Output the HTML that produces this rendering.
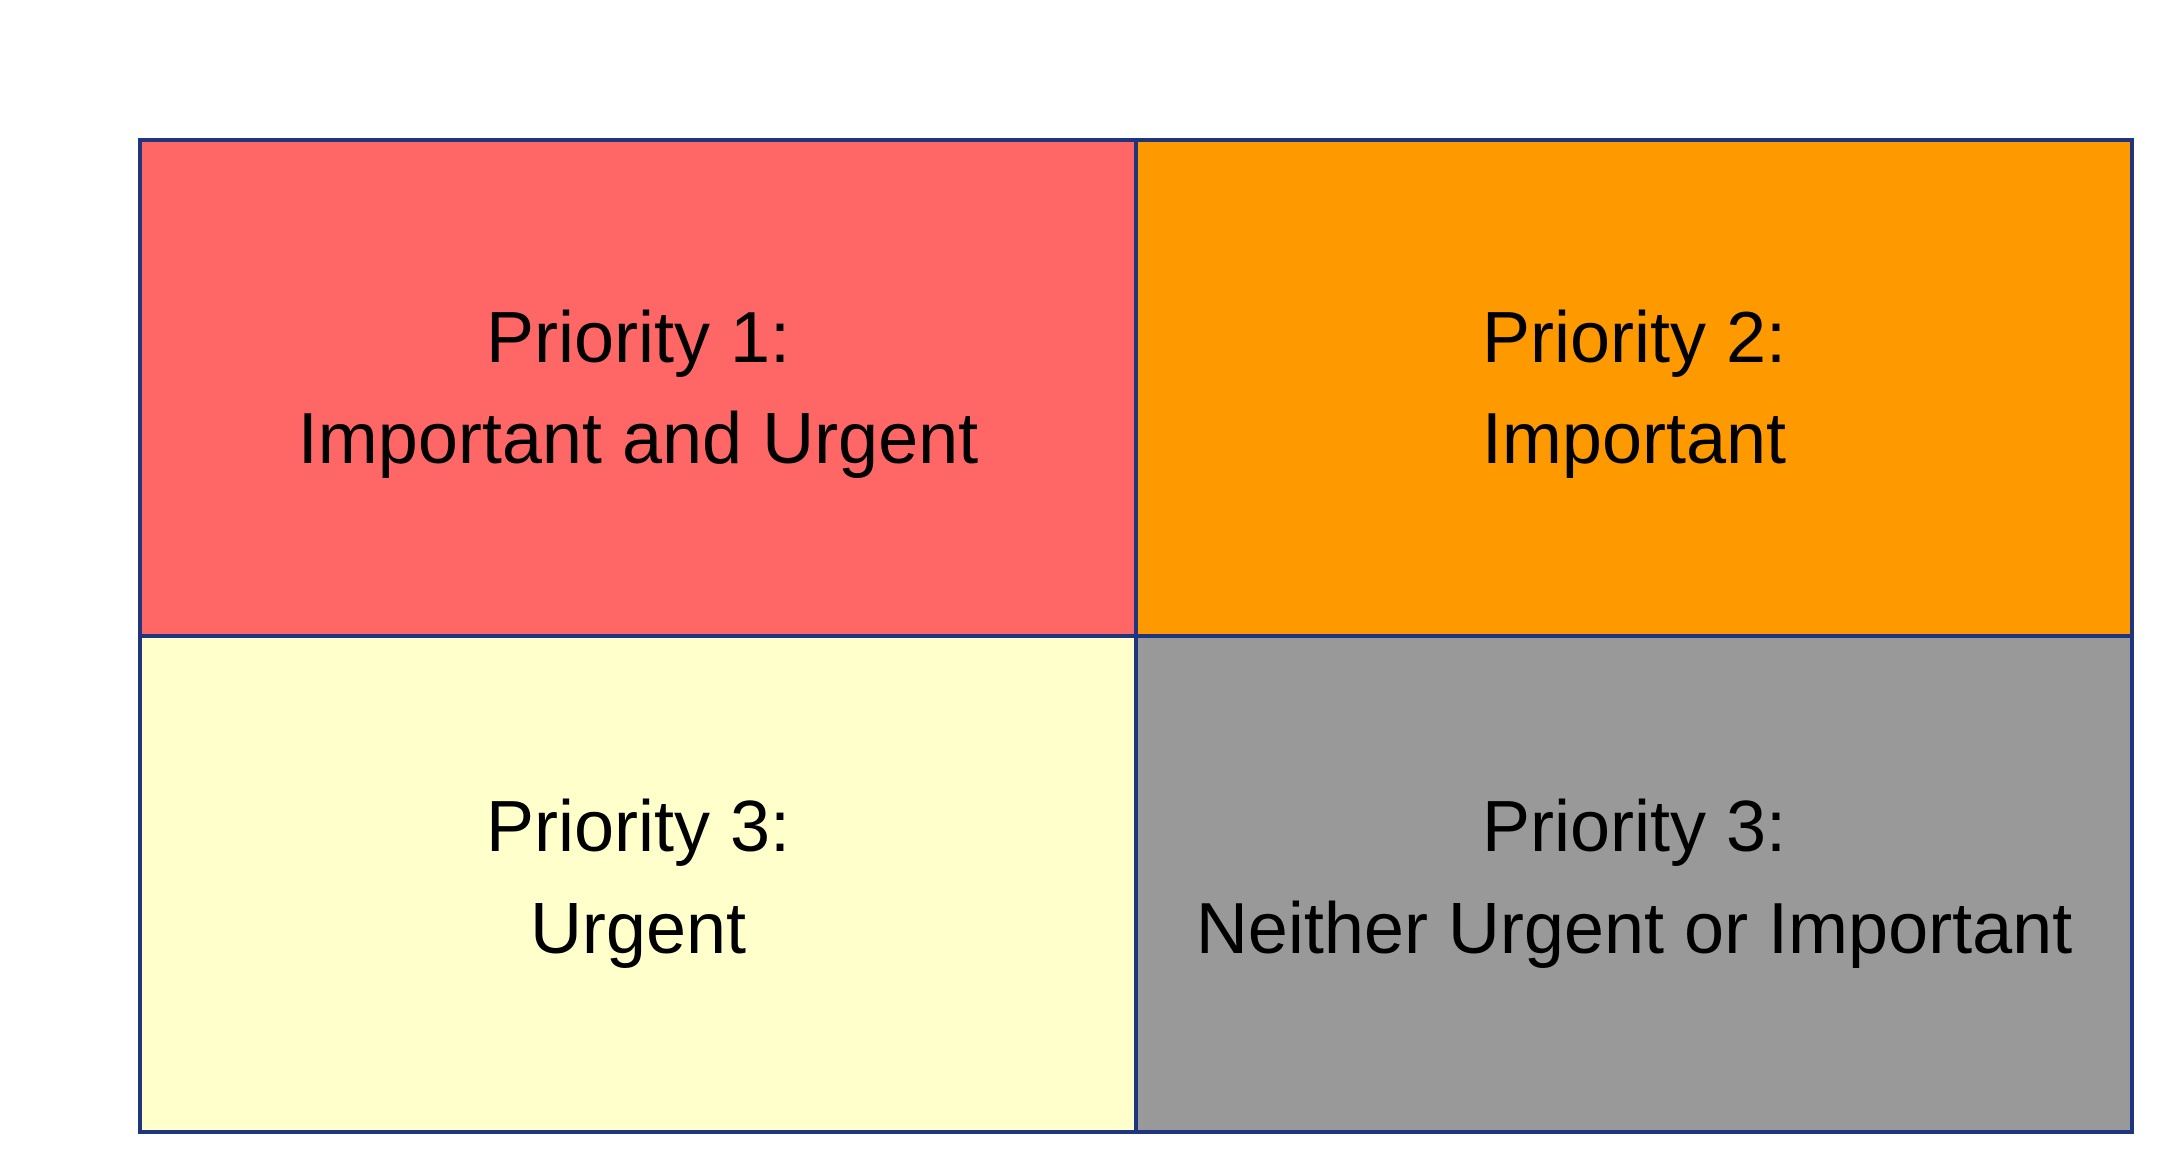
<!DOCTYPE html>
<html><head><meta charset="utf-8"><style>
html,body{margin:0;padding:0;background:#fff;}
svg{display:block;}
text{font-family:"Liberation Sans",Arial,sans-serif;font-size:72px;fill:#000;text-anchor:middle;}
</style></head><body>
<svg width="2174" height="1174" viewBox="0 0 2174 1174" xmlns="http://www.w3.org/2000/svg">
<rect x="0" y="0" width="2174" height="1174" fill="#fff"/>
<rect x="140" y="140" width="996" height="496" fill="#FF6666"/>
<rect x="1136" y="140" width="996" height="496" fill="#FF9900"/>
<rect x="140" y="636" width="996" height="496" fill="#FFFFCC"/>
<rect x="1136" y="636" width="996" height="496" fill="#999999"/>
<rect x="140" y="140" width="1992" height="992" fill="none" stroke="#1F3580" stroke-width="4"/>
<line x1="1136" y1="140" x2="1136" y2="1132" stroke="#1F3580" stroke-width="4"/>
<line x1="140" y1="636" x2="2132" y2="636" stroke="#1F3580" stroke-width="4"/>
<text x="638" y="362">Priority 1:</text>
<text x="638" y="463">Important and Urgent</text>
<text x="1634" y="362">Priority 2:</text>
<text x="1634" y="463">Important</text>
<text x="638" y="851">Priority 3:</text>
<text x="638" y="953">Urgent</text>
<text x="1634" y="851">Priority 3:</text>
<text x="1634" y="953">Neither Urgent or Important</text>
</svg>
</body></html>
